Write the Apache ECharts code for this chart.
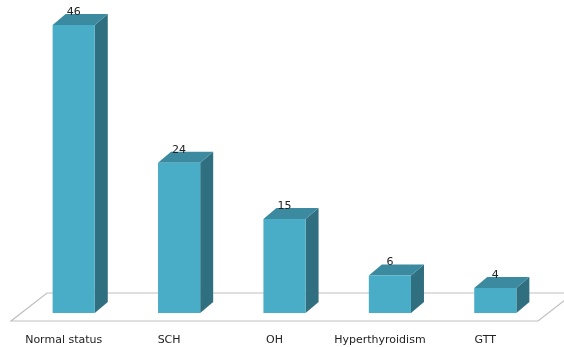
<!DOCTYPE html>
<html>
<head>
<meta charset="utf-8">
<script src="https://cdn.jsdelivr.net/npm/echarts@6/dist/echarts.min.js"></script>
<style>html,body{margin:0;padding:0;background:#fff}#main{width:564px;height:347px}</style>
</head>
<body>
<div id="main"></div>
<script>
var categories = ['Normal status', 'SCH', 'OH', 'Hyperthyroidism', 'GTT'];
var values = [46, 24, 15, 6, 4];

var FRONT = '#4AADC7', SIDE = '#306F80', TOP = '#3B8AA0';
var DX = 13, DY = 11;

var chart = echarts.init(document.getElementById('main'), null, {renderer: 'canvas'});

function renderFloor(params, api) {
  var cs = params.coordSys;
  var y0 = api.coord([0, 0])[1];
  var L = cs.x, R = cs.x + cs.width;
  return {
    type: 'polygon',
    shape: {points: [[L - 10, y0 + 8], [R - 10, y0 + 8], [R + 26, y0 - 20], [L + 26, y0 - 20]]},
    style: {fill: '#fff', stroke: '#BFBFBF', lineWidth: 1.2}
  };
}

function renderBar(params, api) {
  var idx = api.value(0), v = api.value(1);
  var top = api.coord([idx, v]);
  var base = api.coord([idx, 0]);
  var bw = api.size([1, 0])[0] * 0.4;
  var x0 = top[0] - bw / 2, x1 = top[0] + bw / 2;
  var yt = top[1], yb = base[1];
  return {
    type: 'group',
    children: [
      {type: 'polygon', shape: {points: [[x1, yt], [x1 + DX, yt - DY], [x1 + DX, yb - DY], [x1, yb]]}, style: {fill: SIDE}},
      {type: 'polygon', shape: {points: [[x0, yt], [x0 + DX, yt - DY], [x1 + DX, yt - DY], [x1, yt]]}, style: {fill: TOP}},
      {type: 'rect', shape: {x: x0, y: yt, width: bw, height: yb - yt}, style: {fill: FRONT}},
      {type: 'text', style: {text: String(v), x: top[0], y: yt - 13, textAlign: 'center', textVerticalAlign: 'middle',
        fill: '#222', font: '11px "DejaVu Sans"'}}
    ]
  };
}

chart.setOption({
  animation: false,
  grid: {left: 21, right: 16, top: 0, bottom: 34},
  xAxis: {
    type: 'category', data: categories,
    axisLine: {show: false}, axisTick: {show: false},
    axisLabel: {margin: 22, color: '#222', fontFamily: 'DejaVu Sans', fontSize: 11, padding: [0, 20, 0, 0], interval: 0}
  },
  yAxis: {type: 'value', min: 0, max: 50, show: false, splitLine: {show: false}},
  series: [
    {type: 'custom', renderItem: renderFloor, data: [[0]], z: 1, silent: true},
    {type: 'custom', renderItem: renderBar, data: values.map(function (v, i) { return [i, v]; }), z: 2,
      encode: {x: 0, y: 1}}
  ]
});
</script>
</body>
</html>
